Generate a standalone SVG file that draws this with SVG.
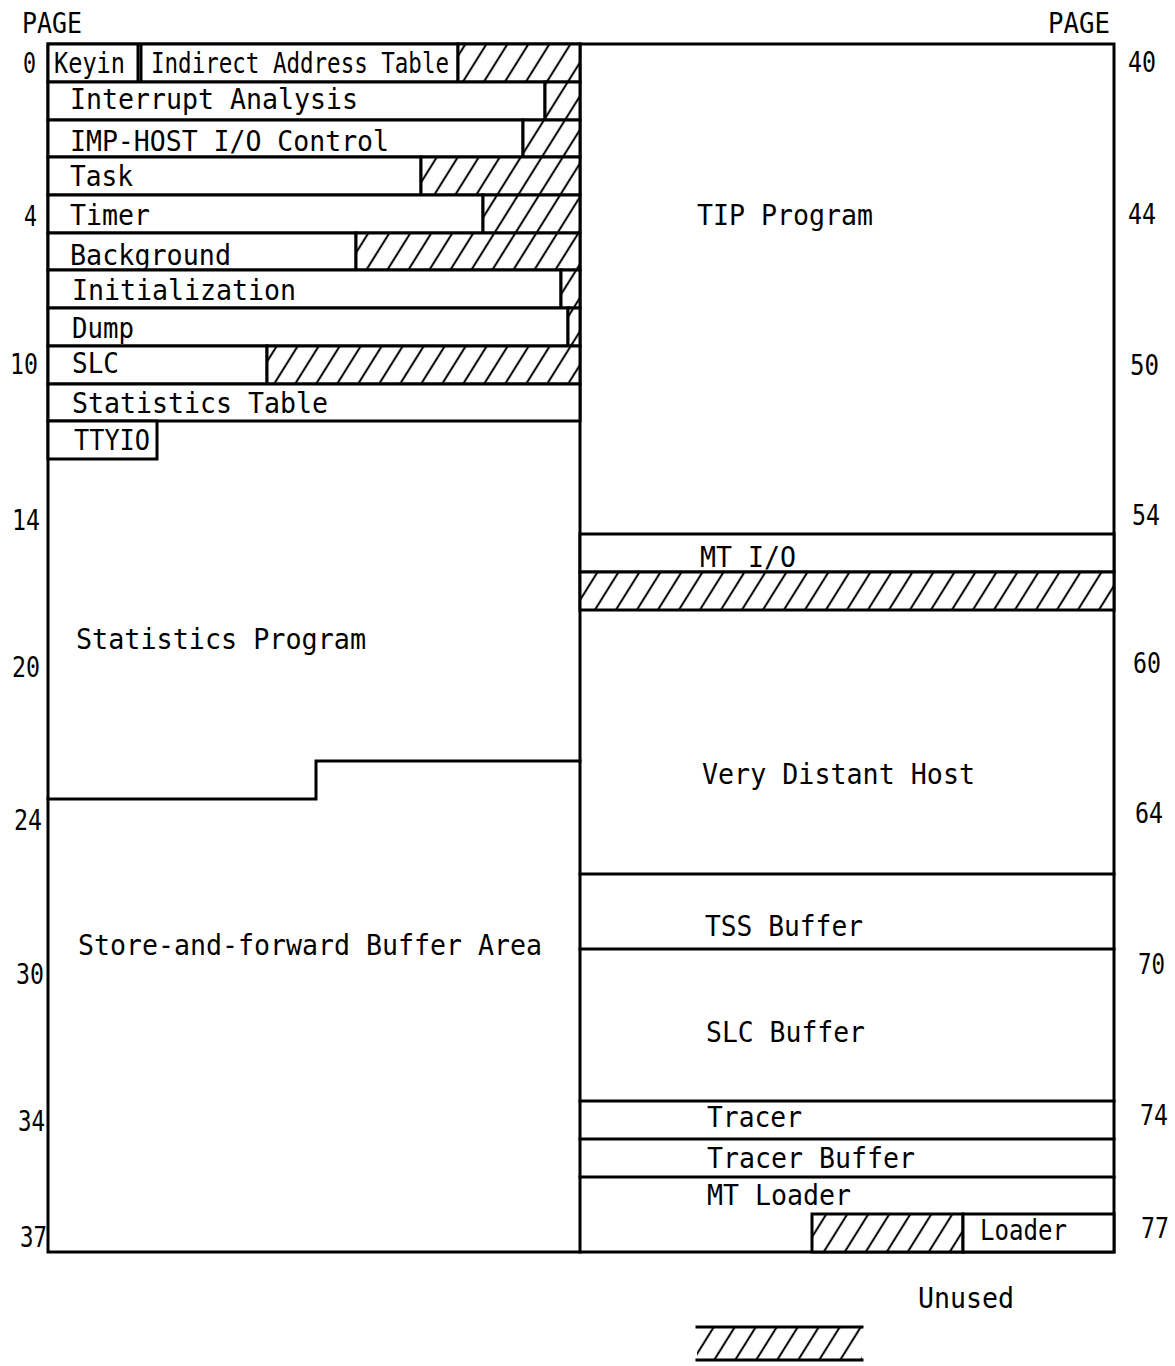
<svg xmlns="http://www.w3.org/2000/svg" width="1175" height="1366" viewBox="0 0 1175 1366">
<style>
  .t { font-family: "DejaVu Sans Mono", "Liberation Mono", monospace; font-size: 28px; fill: #000; }
  .n { font-family: "DejaVu Sans Mono", "Liberation Mono", monospace; font-size: 28px; fill: #000; }
  .box { fill: #fff; stroke: #000; stroke-width: 3; }
  .hat { fill: url(#hatch); stroke: #000; stroke-width: 3; }
  .ln { stroke: #000; stroke-width: 3; fill: none; stroke-linecap: square; }
</style>
<defs>
  <pattern id="hatch" patternUnits="userSpaceOnUse" width="21" height="40" patternTransform="skewX(-32)">
    <rect x="0" y="0" width="21" height="40" fill="#fff"/>
    <line x1="10" y1="-5" x2="10" y2="45" stroke="#000" stroke-width="2.4"/>
  </pattern>
</defs>
<rect x="0" y="0" width="1175" height="1366" fill="#fff"/>

<g id="page-labels">
  <text class="t" x="22" y="33" textLength="60" lengthAdjust="spacingAndGlyphs">PAGE</text>
  <text class="t" x="1048" y="33" textLength="62" lengthAdjust="spacingAndGlyphs">PAGE</text>
  <text class="n" x="23" y="73" textLength="13" lengthAdjust="spacingAndGlyphs">0</text>
  <text class="n" x="24" y="226" textLength="13" lengthAdjust="spacingAndGlyphs">4</text>
  <text class="n" x="10" y="374" textLength="28" lengthAdjust="spacingAndGlyphs">10</text>
  <text class="n" x="12" y="530" textLength="28" lengthAdjust="spacingAndGlyphs">14</text>
  <text class="n" x="12" y="677" textLength="28" lengthAdjust="spacingAndGlyphs">20</text>
  <text class="n" x="14" y="830" textLength="28" lengthAdjust="spacingAndGlyphs">24</text>
  <text class="n" x="16" y="984" textLength="28" lengthAdjust="spacingAndGlyphs">30</text>
  <text class="n" x="18" y="1131" textLength="27" lengthAdjust="spacingAndGlyphs">34</text>
  <text class="n" x="20" y="1247" textLength="27" lengthAdjust="spacingAndGlyphs">37</text>
  <text class="n" x="1128" y="72" textLength="28" lengthAdjust="spacingAndGlyphs">40</text>
  <text class="n" x="1128" y="224" textLength="28" lengthAdjust="spacingAndGlyphs">44</text>
  <text class="n" x="1130" y="375" textLength="29" lengthAdjust="spacingAndGlyphs">50</text>
  <text class="n" x="1132" y="525" textLength="28" lengthAdjust="spacingAndGlyphs">54</text>
  <text class="n" x="1133" y="673" textLength="28" lengthAdjust="spacingAndGlyphs">60</text>
  <text class="n" x="1135" y="823" textLength="28" lengthAdjust="spacingAndGlyphs">64</text>
  <text class="n" x="1138" y="974" textLength="27" lengthAdjust="spacingAndGlyphs">70</text>
  <text class="n" x="1140" y="1125" textLength="28" lengthAdjust="spacingAndGlyphs">74</text>
  <text class="n" x="1141" y="1238" textLength="28" lengthAdjust="spacingAndGlyphs">77</text>
</g>

<g id="frame">
  <rect x="48" y="44" width="1066" height="1208" fill="#fff" stroke="#000" stroke-width="3"/>
  <line class="ln" x1="580" y1="44" x2="580" y2="1252"/>
</g>

<g id="keyin"><rect class="box" x="48" y="44" width="90" height="38"/><text class="t" x="54" y="73" textLength="71" lengthAdjust="spacingAndGlyphs">Keyin</text></g>
<g id="indirect-address-table"><rect class="box" x="141" y="44" width="317" height="38"/><text class="t" x="151" y="73" textLength="298" lengthAdjust="spacingAndGlyphs">Indirect Address Table</text></g>
<g id="unused-0"><rect class="hat" x="458" y="44" width="122" height="38"/></g>

<g id="interrupt-analysis"><rect class="box" x="48" y="82" width="497" height="38"/><text class="t" x="70" y="109" textLength="288" lengthAdjust="spacingAndGlyphs">Interrupt Analysis</text></g>
<g id="unused-1"><rect class="hat" x="545" y="82" width="35" height="38"/></g>

<g id="imp-host"><rect class="box" x="48" y="120" width="475" height="37"/><text class="t" x="70" y="151" textLength="319" lengthAdjust="spacingAndGlyphs">IMP-HOST I/O Control</text></g>
<g id="unused-2"><rect class="hat" x="523" y="120" width="57" height="37"/></g>

<g id="task"><rect class="box" x="48" y="157" width="373" height="38"/><text class="t" x="70" y="186" textLength="63" lengthAdjust="spacingAndGlyphs">Task</text></g>
<g id="unused-3"><rect class="hat" x="421" y="157" width="159" height="38"/></g>

<g id="timer"><rect class="box" x="48" y="195" width="435" height="38"/><text class="t" x="70" y="225" textLength="80" lengthAdjust="spacingAndGlyphs">Timer</text></g>
<g id="unused-4"><rect class="hat" x="483" y="195" width="97" height="38"/></g>

<g id="background"><rect class="box" x="48" y="233" width="308" height="37"/><text class="t" x="70" y="265" textLength="161" lengthAdjust="spacingAndGlyphs">Background</text></g>
<g id="unused-5"><rect class="hat" x="356" y="233" width="224" height="37"/></g>

<g id="initialization"><rect class="box" x="48" y="270" width="513" height="38"/><text class="t" x="72" y="300" textLength="224" lengthAdjust="spacingAndGlyphs">Initialization</text></g>
<g id="unused-6"><rect class="hat" x="561" y="270" width="19" height="38"/></g>

<g id="dump"><rect class="box" x="48" y="308" width="520" height="38"/><text class="t" x="72" y="338" textLength="62" lengthAdjust="spacingAndGlyphs">Dump</text></g>
<g id="unused-7"><rect class="hat" x="568" y="308" width="12" height="38"/></g>

<g id="slc"><rect class="box" x="48" y="346" width="219" height="38"/><text class="t" x="72" y="373" textLength="47" lengthAdjust="spacingAndGlyphs">SLC</text></g>
<g id="unused-8"><rect class="hat" x="267" y="346" width="313" height="38"/></g>

<g id="statistics-table"><rect class="box" x="48" y="384" width="532" height="37"/><text class="t" x="72" y="413" textLength="256" lengthAdjust="spacingAndGlyphs">Statistics Table</text></g>

<g id="ttyio"><rect class="box" x="48" y="421" width="109" height="38"/><text class="t" x="74" y="450" textLength="76" lengthAdjust="spacingAndGlyphs">TTYIO</text></g>

<g id="statistics-program">
  <path class="ln" d="M48 799 H316 V761 H580"/>
  <text class="t" x="76" y="649" textLength="290" lengthAdjust="spacingAndGlyphs">Statistics Program</text>
</g>

<g id="store-and-forward">
  <text class="t" x="78" y="955" textLength="464" lengthAdjust="spacingAndGlyphs">Store-and-forward Buffer Area</text>
</g>

<g id="tip-program">
  <text class="t" x="697" y="225" textLength="176" lengthAdjust="spacingAndGlyphs">TIP Program</text>
</g>

<g id="mt-io"><rect class="box" x="580" y="534" width="534" height="38"/><text class="t" x="700" y="567" textLength="96" lengthAdjust="spacingAndGlyphs">MT I/O</text></g>
<g id="unused-right"><rect class="hat" x="580" y="572" width="534" height="38"/></g>

<g id="very-distant-host">
  <line class="ln" x1="580" y1="874" x2="1114" y2="874"/>
  <text class="t" x="702" y="784" textLength="273" lengthAdjust="spacingAndGlyphs">Very Distant Host</text>
</g>

<g id="tss-buffer">
  <line class="ln" x1="580" y1="949" x2="1114" y2="949"/>
  <text class="t" x="705" y="936" textLength="158" lengthAdjust="spacingAndGlyphs">TSS Buffer</text>
</g>

<g id="slc-buffer">
  <line class="ln" x1="580" y1="1101" x2="1114" y2="1101"/>
  <text class="t" x="706" y="1042" textLength="159" lengthAdjust="spacingAndGlyphs">SLC Buffer</text>
</g>

<g id="tracer">
  <line class="ln" x1="580" y1="1139" x2="1114" y2="1139"/>
  <text class="t" x="707" y="1127" textLength="95" lengthAdjust="spacingAndGlyphs">Tracer</text>
</g>

<g id="tracer-buffer">
  <line class="ln" x1="580" y1="1177" x2="1114" y2="1177"/>
  <text class="t" x="707" y="1168" textLength="208" lengthAdjust="spacingAndGlyphs">Tracer Buffer</text>
</g>

<g id="mt-loader">
  <text class="t" x="707" y="1205" textLength="144" lengthAdjust="spacingAndGlyphs">MT Loader</text>
</g>

<g id="unused-loader"><rect class="hat" x="812" y="1214" width="151" height="38"/></g>
<g id="loader"><rect class="box" x="963" y="1214" width="151" height="38"/><text class="t" x="980" y="1240" textLength="87" lengthAdjust="spacingAndGlyphs">Loader</text></g>

<g id="legend">
  <rect x="697" y="1327" width="165" height="33" fill="url(#hatch)"/>
  <line class="ln" x1="697" y1="1327" x2="862" y2="1327"/>
  <line class="ln" x1="697" y1="1360" x2="862" y2="1360"/>
  <text class="t" x="918" y="1308" textLength="96" lengthAdjust="spacingAndGlyphs">Unused</text>
</g>
</svg>
